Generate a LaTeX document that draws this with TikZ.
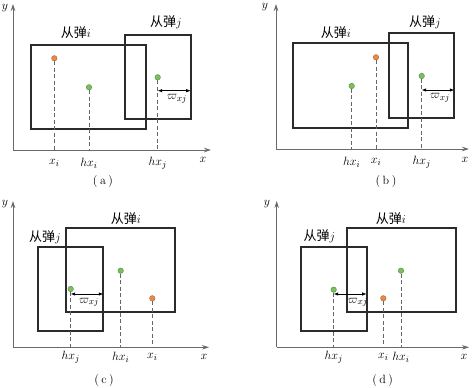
\documentclass[tikz,border=0pt]{standalone}
\usepackage{fontspec}
\newfontfamily\cjk{Noto Sans CJK SC}
\usetikzlibrary{arrows.meta}
\definecolor{dotorange}{HTML}{E88B4A}
\definecolor{dotorangeline}{HTML}{B0602A}
\definecolor{dotgreen}{HTML}{7CBF5E}
\definecolor{dotgreenline}{HTML}{4E8A3A}
\definecolor{boxline}{HTML}{2B2B2B}
\definecolor{axisline}{HTML}{6A6A6A}
\begin{document}
\begin{tikzpicture}[x=1pt,y=-1pt,
  axis/.style={draw=axisline, line width=0.8pt, -{Stealth[length=7pt,width=4.5pt]}},
  box/.style={draw=boxline, line width=1.7pt},
  guide/.style={draw=black!60, dash pattern=on 4pt off 2.5pt, line width=0.6pt},
  dim/.style={draw=black, line width=0.7pt, {Latex[length=4.5pt,width=3.5pt]}-{Latex[length=4.5pt,width=3.5pt]}},
  gdot/.style={circle, fill=dotgreen, draw=dotgreenline, line width=0.4pt, inner sep=0pt, minimum size=5.5pt},
  odot/.style={circle, fill=dotorange, draw=dotorangeline, line width=0.4pt, inner sep=0pt, minimum size=5.5pt},
  lab/.style={font=\fontsize{12.5}{14}\selectfont, inner sep=0pt},
  cn/.style={font=\fontsize{13}{15}\selectfont, inner sep=0pt},
  captionlab/.style={font=\fontsize{12}{14}\selectfont, inner sep=0pt},
]
\path[use as bounding box] (0,0) rectangle (472,388);

% ---------------- panel (a) ----------------
\coordinate (aO) at (13,150);
\coordinate (aY) at (13,4);
\coordinate (aX) at (211,150);
\draw[axis] (aO) -- (aY);
\draw[axis] (aO) -- (aX);
\node[lab] (aylab) at (5,8) {$y$};
\node[lab] (axlab) at (203,160) {$x$};
\draw[box] (30.7,45) rectangle (145.7,129);
\draw[box] (125,35) rectangle (190.7,119.3);
\node[cn] (aci) at (76,33) {{\cjk 从弹}$i$};
\node[cn] (acj) at (166,22) {{\cjk 从弹}$j$};
\node[odot] (axi) at (54.3,58.3) {};
\node[gdot] (ahxi) at (89,87.3) {};
\node[gdot] (ahxj) at (157.7,77.3) {};
\draw[guide] (axi) -- (axi |- aO);
\draw[guide] (ahxi) -- (ahxi |- aO);
\draw[guide] (ahxj) -- (ahxj |- aO);
\node[lab] (axil) at (54.3,163) {$x_i$};
\node[lab] (ahxil) at (89,163) {$hx_i$};
\node[lab] (ahxjl) at (157.7,163) {$hx_j$};
\coordinate (aw1) at (157.7,90.7);
\coordinate (aw2) at (190.7,90.7);
\draw[dim] (aw1) -- (aw2);
\node[lab] (awl) at (177,99) {$\varpi_{xj}$};
\node[captionlab] (acap) at (103,182) {(\hspace{2.5pt}a\hspace{2.5pt})};

% ---------------- panel (b) ----------------
\coordinate (bO) at (276,149);
\coordinate (bY) at (276,4);
\coordinate (bX) at (469,149);
\draw[axis] (bO) -- (bY);
\draw[axis] (bO) -- (bX);
\node[lab] (bylab) at (265,7) {$y$};
\node[lab] (bxlab) at (465,160) {$x$};
\draw[box] (293.3,43.3) rectangle (408.3,127.7);
\draw[box] (388.7,33.3) rectangle (454.3,118.3);
\node[cn] (bci) at (336,33) {{\cjk 从弹}$i$};
\node[cn] (bcj) at (425,22) {{\cjk 从弹}$j$};
\node[gdot] (bhxi) at (351.7,86) {};
\node[odot] (bxi) at (376,57.3) {};
\node[gdot] (bhxj) at (421.7,76) {};
\draw[guide] (bxi) -- (bxi |- bO);
\draw[guide] (bhxi) -- (bhxi |- bO);
\draw[guide] (bhxj) -- (bhxj |- bO);
\node[lab] (bhxil) at (351.7,162) {$hx_i$};
\node[lab] (bxil) at (376,162) {$x_i$};
\node[lab] (bhxjl) at (421.7,162) {$hx_j$};
\coordinate (bw1) at (421.7,90);
\coordinate (bw2) at (454.3,90);
\draw[dim] (bw1) -- (bw2);
\node[lab] (bwl) at (440,98) {$\varpi_{xj}$};
\node[captionlab] (bcap) at (386,182) {(\hspace{2.5pt}b\hspace{2.5pt})};

% ---------------- panel (c) ----------------
\coordinate (cO) at (13,347.3);
\coordinate (cY) at (13,201);
\coordinate (cX) at (209,347.3);
\draw[axis] (cO) -- (cY);
\draw[axis] (cO) -- (cX);
\node[lab] (cylab) at (5,204) {$y$};
\node[lab] (cxlab) at (204,357) {$x$};
\draw[box] (65.7,228.3) rectangle (175,312.3);
\draw[box] (38.3,247.3) rectangle (103.3,330.7);
\node[cn] (cci) at (126,218.3) {{\cjk 从弹}$i$};
\node[cn] (ccj) at (45,237.3) {{\cjk 从弹}$j$};
\node[gdot] (chxj) at (70.7,289) {};
\node[gdot] (chxi) at (120.7,270.7) {};
\node[odot] (cxi) at (152.3,298.3) {};
\draw[guide] (chxj) -- (chxj |- cO);
\draw[guide] (chxi) -- (chxi |- cO);
\draw[guide] (cxi) -- (cxi |- cO);
\node[lab] (chxjl) at (70.7,357.3) {$hx_j$};
\node[lab] (chxil) at (120.7,357.3) {$hx_i$};
\node[lab] (cxil) at (152.3,357.3) {$x_i$};
\coordinate (cw1) at (70.7,294);
\coordinate (cw2) at (103.3,294);
\draw[dim] (cw1) -- (cw2);
\node[lab] (cwl) at (89,302.3) {$\varpi_{xj}$};
\node[captionlab] (ccap) at (104,380.7) {(\hspace{2.5pt}c\hspace{2.5pt})};

% ---------------- panel (d) ----------------
\coordinate (dO) at (276.7,347.3);
\coordinate (dY) at (276.7,201);
\coordinate (dX) at (469,347.3);
\draw[axis] (dO) -- (dY);
\draw[axis] (dO) -- (dX);
\node[lab] (dylab) at (267,204) {$y$};
\node[lab] (dxlab) at (464,357) {$x$};
\draw[box] (346.7,228.3) rectangle (456,312.3);
\draw[box] (301,247.3) rectangle (366.7,330.7);
\node[cn] (dci) at (391,218.3) {{\cjk 从弹}$i$};
\node[cn] (dcj) at (319.3,236.7) {{\cjk 从弹}$j$};
\node[gdot] (dhxj) at (333.7,289.7) {};
\node[odot] (dxi) at (383.3,298.3) {};
\node[gdot] (dhxi) at (401,270.7) {};
\draw[guide] (dhxj) -- (dhxj |- dO);
\draw[guide] (dxi) -- (dxi |- dO);
\draw[guide] (dhxi) -- (dhxi |- dO);
\node[lab] (dhxjl) at (333.7,357.3) {$hx_j$};
\node[lab] (dxil) at (383.3,357.3) {$x_i$};
\node[lab] (dhxil) at (401,357.3) {$hx_i$};
\coordinate (dw1) at (333.7,294);
\coordinate (dw2) at (366.7,294);
\draw[dim] (dw1) -- (dw2);
\node[lab] (dwl) at (357.7,302.3) {$\varpi_{xj}$};
\node[captionlab] (dcap) at (382.7,380.7) {(\hspace{2.5pt}d\hspace{2.5pt})};
\end{tikzpicture}
\end{document}
